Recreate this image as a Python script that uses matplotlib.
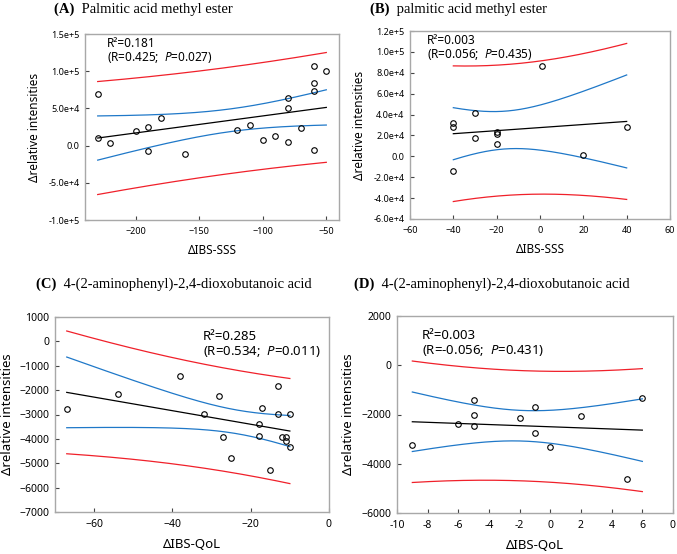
import numpy as np
import matplotlib
matplotlib.use("Agg")
import matplotlib.pyplot as plt

plt.rcParams['font.family'] = ['Noto Sans', 'DejaVu Sans']
plt.rcParams['mathtext.fontset'] = 'custom'
plt.rcParams['mathtext.it'] = 'Noto Sans:italic'
plt.rcParams['mathtext.rm'] = 'Noto Sans'

# ---------------- data ----------------
a_x = [-230, -230, -220, -200, -190, -190, -180, -161, -120, -110, -100,
       -90, -80, -80, -80, -70, -60, -60, -60, -60, -50]
a_y = [69000, 10800, 4000, 19700, 24700, -7200, 37300, -11200, 21500, 27400,
       7600, 13000, 64000, 50300, 4900, 23500, 106800, 84400, 73200, -5600, 100500]

b_x = [-40, -40, -40, -30, -30, -20, -20, -20, 1, 20, 40]
b_y = [-14500, 31900, 28100, 41100, 17900, 23000, 21400, 11900, 86600, 1400, 27800]

c_x = [-67, -54, -38, -32, -28, -27, -25, -17, -18, -18, -15, -13, -13,
       -12, -11, -11, -10, -10]
c_y = [-2770, -2162, -1405, -2973, -2230, -3905, -4797, -2716, -3392, -3865,
       -5284, -1838, -2959, -3932, -3932, -4095, -2986, -4324]

d_x = [-9, -6, -5, -5, -5, -2, -1, -1, 0, 2, 5, 6]
d_y = [-3253, -2373, -1427, -2013, -2467, -2160, -1693, -2760, -3320, -2080,
       -4613, -1347]

titles_bold = ['(A)', '(B)', '(C)', '(D)']
titles = ['Palmitic acid methyl ester', 'palmitic acid methyl ester',
          '4-(2-aminophenyl)-2,4-dioxobutanoic acid',
          '4-(2-aminophenyl)-2,4-dioxobutanoic acid']
stats_r2 = ['R\u00b2=0.181', 'R\u00b2=0.003', 'R\u00b2=0.285', 'R\u00b2=0.003']
stats_r = ['(R=0.425;  $\\it{P}$=0.027)', '(R=0.056;  $\\it{P}$=0.435)',
           '(R=0.534;  $\\it{P}$=0.011)', '(R=-0.056;  $\\it{P}$=0.431)']

a_xticks = [-200, -150, -100, -50]
a_yticks = [150000, 100000, 50000, 0, -50000, -100000]
a_ylabels = ['1.5e+5', '1.0e+5', '5.0e+4', '0.0', '-5.0e+4', '-1.0e+5']
b_xticks = [-60, -40, -20, 0, 20, 40, 60]
b_yticks = [120000, 100000, 80000, 60000, 40000, 20000, 0, -20000, -40000, -60000]
b_ylabels = ['1.2e+5', '1.0e+5', '8.0e+4', '6.0e+4', '4.0e+4', '2.0e+4', '0.0',
             '-2.0e+4', '-4.0e+4', '-6.0e+4']
c_xticks = [-60, -40, -20, 0]
c_yticks = [1000, 0, -1000, -2000, -3000, -4000, -5000, -6000, -7000]
d_xticks = [-10, -8, -6, -4, -2, 0, 2, 4, 6, 8]
d_xlabels = ['-10', '-8', '-6', '-4', '-2', '0', '2', '4', '6', '0']
d_yticks = [2000, 0, -2000, -4000, -6000]

T975 = {19: 2.093, 9: 2.262, 16: 2.120, 10: 2.228}

fig = plt.figure(figsize=(6.77, 5.54), dpi=100)

def regress(ax, x, y):
    x = np.asarray(x, float)
    y = np.asarray(y, float)
    n = len(x)
    b, a = np.polyfit(x, y, 1)
    s = np.sqrt(np.sum((y - (a + b * x)) ** 2) / (n - 2))
    sxx = np.sum((x - x.mean()) ** 2)
    xx = np.linspace(x.min(), x.max(), 200)
    yy = a + b * xx
    t = T975[n - 2]
    ci = t * s * np.sqrt(1.0 / n + (xx - x.mean()) ** 2 / sxx)
    pi = t * s * np.sqrt(1 + 1.0 / n + (xx - x.mean()) ** 2 / sxx)
    red = '#f0202a'
    blue = '#1f78c8'
    ax.plot(xx, yy + pi, color=red, lw=0.9)
    ax.plot(xx, yy - pi, color=red, lw=0.9)
    ax.plot(xx, yy + ci, color=blue, lw=0.9)
    ax.plot(xx, yy - ci, color=blue, lw=0.9)
    ax.plot(xx, yy, color='black', lw=0.9)
    ax.plot(x, y, 'o', mfc='none', mec='black', ms=4, mew=0.8)

def style(ax, tfs):
    for sp in ax.spines.values():
        sp.set_color('#a8a8a8')
        sp.set_linewidth(1.0)
    ax.tick_params(direction='in', length=3, width=0.8, color='#444444',
                   labelsize=tfs, pad=5)
    ax.tick_params(axis='y', pad=4)

def px_rect(l, t, r, b):
    W, H = 677.0, 554.0
    return [l / W, 1 - b / H, (r - l) / W, (b - t) / H]

# Panel A
axA = fig.add_axes(px_rect(85, 34, 339, 220))
regress(axA, a_x, a_y)
axA.set_xlim(-240, -40)
axA.set_ylim(-100000, 150000)
axA.set_xticks(a_xticks)
axA.set_yticks(a_yticks)
axA.set_yticklabels(a_ylabels)
style(axA, 6.5)
axA.set_xlabel('\u0394IBS-SSS', fontsize=8.5, labelpad=6)
axA.set_ylabel('\u0394relative intensities', fontsize=8.5, labelpad=5)
axA.text(0.085, 0.95, stats_r2[0], transform=axA.transAxes, fontsize=8.5, va='center')
axA.text(0.085, 0.875, stats_r[0], transform=axA.transAxes, fontsize=8.5, va='center')

# Panel B
axB = fig.add_axes(px_rect(410, 31, 670, 219))
regress(axB, b_x, b_y)
axB.set_xlim(-60, 60)
axB.set_ylim(-60000, 120000)
axB.set_xticks(b_xticks)
axB.set_yticks(b_yticks)
axB.set_yticklabels(b_ylabels)
style(axB, 6.5)
axB.set_xlabel('\u0394IBS-SSS', fontsize=8.5, labelpad=6)
axB.set_ylabel('\u0394relative intensities', fontsize=8.5, labelpad=5)
axB.text(0.065, 0.95, stats_r2[1], transform=axB.transAxes, fontsize=8.5, va='center')
axB.text(0.065, 0.875, stats_r[1], transform=axB.transAxes, fontsize=8.5, va='center')

# Panel C
axC = fig.add_axes(px_rect(55, 317, 329, 512))
regress(axC, c_x, c_y)
axC.set_xlim(-70, 0)
axC.set_ylim(-7000, 1000)
axC.set_xticks(c_xticks)
axC.set_yticks(c_yticks)
style(axC, 7.5)
axC.set_xlabel('\u0394IBS-QoL', fontsize=9.5, labelpad=6)
axC.set_ylabel('\u0394relative intensities', fontsize=9.5, labelpad=4)
axC.text(0.54, 0.9, stats_r2[2], transform=axC.transAxes, fontsize=9.5, va='center')
axC.text(0.54, 0.825, stats_r[2], transform=axC.transAxes, fontsize=9.5, va='center')

# Panel D
axD = fig.add_axes(px_rect(397, 316, 673, 513))
regress(axD, d_x, d_y)
axD.set_xlim(-10, 8)
axD.set_ylim(-6000, 2000)
axD.set_xticks(d_xticks)
axD.set_xticklabels(d_xlabels)
axD.set_yticks(d_yticks)
style(axD, 7.5)
axD.set_xlabel('\u0394IBS-QoL', fontsize=9.5, labelpad=6)
axD.set_ylabel('\u0394relative intensities', fontsize=9.5, labelpad=5)
axD.text(0.09, 0.9, stats_r2[3], transform=axD.transAxes, fontsize=9.5, va='center')
axD.text(0.09, 0.825, stats_r[3], transform=axD.transAxes, fontsize=9.5, va='center')

# Titles
serif = ['Liberation Serif', 'DejaVu Serif']
def title(xc, yc, i):
    fig.text(xc / 677.0, 1 - yc / 554.0, titles_bold[i] + ' ', fontsize=10.5,
             fontweight='bold', family=serif, ha='right', va='center')
    fig.text(xc / 677.0, 1 - yc / 554.0, ' ' + titles[i], fontsize=10.5,
             family=serif, ha='left', va='center')

title(78, 9, 0)
title(393, 9, 1)
title(60, 284, 2)
title(378, 284, 3)

fig.savefig('out.png', dpi=100)
